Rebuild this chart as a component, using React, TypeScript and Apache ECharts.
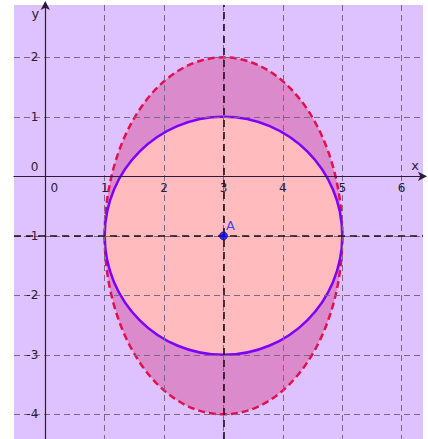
import React, { useEffect, useRef } from "react";
import * as echarts from "echarts";

// [centerX, centerY, radiusX, radiusY]
const ellipseShape = [3, -1, 2, 3];
const circleShape = [3, -1, 2, 2];
const pointA = [3, -1];
const pointLabel = "A";
const guideX = 3;
const guideY = -1;
const xTicks = [-0, 1, 2, 3, 4, 5, 6];
const yTicks = [-4, -3, -2, -1, 0, 1, 2];
const xRange = [-0.527, 6.359];
const yRange = [-4.414, 2.88];

export default function App() {
  const ref = useRef<HTMLDivElement>(null);
  useEffect(() => {
    const chart = echarts.init(ref.current!, null, { renderer: "svg" });
    const gridColor = "#7d6585";
    const axisColor = "#2b1a3a";
    const W = 428, H = 439, L = 14, R = 5, T = 5, B = 0;
    const pw = W - L - R, ph = H - T - B;
    const zeroY = T + (yRange[1] / (yRange[1] - yRange[0])) * ph;
    const zeroX = L + (-xRange[0] / (xRange[1] - xRange[0])) * pw;
    const shape = (vals: number[], fill: string, stroke: string, dash: number[] | null, z: number) => ({
      type: "custom",
      coordinateSystem: "cartesian2d",
      z,
      silent: true,
      data: [vals],
      renderItem: (params: any, api: any) => {
        const c = api.coord([api.value(0), api.value(1)]);
        const o = api.coord([0, 0]);
        const px = api.coord([api.value(2), 0]);
        const py = api.coord([0, api.value(3)]);
        return {
          type: "ellipse",
          shape: { cx: c[0], cy: c[1], rx: Math.abs(px[0] - o[0]), ry: Math.abs(py[1] - o[1]) },
          style: { fill, stroke, lineWidth: 2.5, lineDash: dash || undefined },
        };
      },
      encode: { x: [0], y: [1] },
    });
    chart.setOption({
      animation: false,
      backgroundColor: "#ffffff",
      grid: { left: L, top: T, right: R, bottom: B, outerBoundsMode: "none", containLabel: false, show: true, backgroundColor: "#dec2ff", borderWidth: 0 },
      xAxis: {
        type: "value",
        min: xRange[0],
        max: xRange[1],
        z: 5,
        offset: -(H - zeroY),
        axisLine: { onZero: false, lineStyle: { color: axisColor, width: 1.2 }, symbol: ["none", "arrow"], symbolSize: [7, 9], symbolOffset: [0, 4] },
        axisTick: { show: false, customValues: xTicks },
        axisLabel: {
          customValues: xTicks,
          color: "#2b1a3a",
          fontSize: 12,
          fontFamily: "DejaVu Sans",
          margin: 6,
          formatter: (v: number) => (v === 0 ? "{z|0}" : String(v)),
          rich: { z: { padding: [0, 0, 0, 18], fontSize: 12, color: "#2b1a3a", fontFamily: "DejaVu Sans" } },
        },
        splitLine: { show: true, lineStyle: { color: gridColor, type: [6, 4], width: 1 } },
        name: "x",
        nameLocation: "end",
        nameGap: -4,
        nameTextStyle: { color: "#2b1a3a", fontSize: 13, fontFamily: "DejaVu Sans", align: "right", verticalAlign: "bottom", padding: [0, 0, 4, 0] },
      },
      yAxis: {
        type: "value",
        min: yRange[0],
        max: yRange[1],
        z: 5,
        offset: -(zeroX - L),
        axisLine: { onZero: false, lineStyle: { color: axisColor, width: 1.2 }, symbol: ["none", "arrow"], symbolSize: [7, 9], symbolOffset: [0, 4] },
        axisTick: { show: false, customValues: yTicks },
        axisLabel: {
          customValues: yTicks,
          color: "#2b1a3a",
          fontSize: 12,
          fontFamily: "DejaVu Sans",
          margin: 7,
          formatter: (v: number) => (v === 0 ? "{z|0}" : String(v)),
          rich: { z: { padding: [0, 0, 18, 0], fontSize: 12, color: "#2b1a3a", fontFamily: "DejaVu Sans" } },
        },
        splitLine: { show: true, lineStyle: { color: gridColor, type: [6, 4], width: 1 } },
        name: "y",
        nameLocation: "end",
        nameGap: -2,
        nameTextStyle: { color: "#2b1a3a", fontSize: 13, fontFamily: "DejaVu Sans", align: "right", verticalAlign: "top", padding: [0, 6, 0, 0] },
      },
      series: [
        shape(ellipseShape, "#db8bcb", "#e3104e", [7, 4], 1),
        shape(circleShape, "#ffbbbd", "#7f00ff", null, 2),
        {
          type: "scatter",
          z: 10,
          data: [pointA],
          symbolSize: 8,
          itemStyle: { color: "#0000ff", borderColor: "#1a1a66", borderWidth: 1 },
          label: { show: true, formatter: pointLabel, position: [7, -12], color: "#2020ff", fontSize: 13, fontFamily: "DejaVu Sans" },
          markLine: {
            silent: true,
            symbol: ["none", "none"],
            label: { show: false },
            lineStyle: { color: "#1a0f1a", type: [7, 5], width: 1.6 },
            data: [{ xAxis: guideX }, { yAxis: guideY }],
            z: 9,
          },
        },
      ],
    });
    return () => chart.dispose();
  }, []);
  return <div ref={ref} style={{ position: "fixed", left: 0, top: 0, width: 428, height: 439 }} />;
}
